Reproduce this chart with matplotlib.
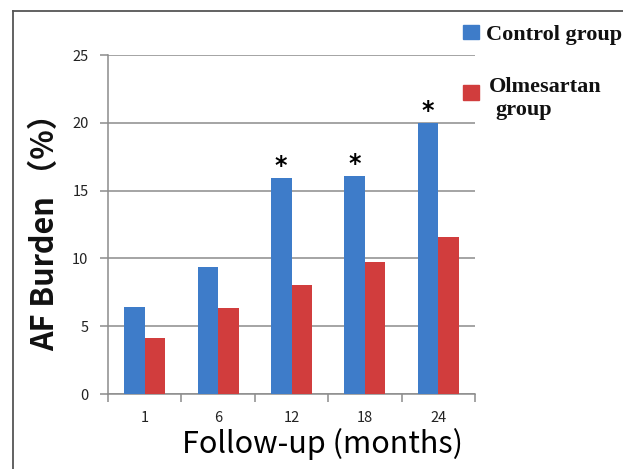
import matplotlib
matplotlib.use("Agg")
import matplotlib.pyplot as plt
from matplotlib.lines import Line2D
from matplotlib.patches import Rectangle
import numpy as np

months = ["1", "6", "12", "18", "24"]
control = [6.45, 9.4, 15.95, 16.05, 19.95]
olmesartan = [4.15, 6.35, 8.05, 9.7, 11.6]
significant = [False, False, True, True, True]
y_ticks = [0, 5, 10, 15, 20, 25]

BLUE = "#3E7CC9"
RED = "#D13D3D"
GRID = "#8c8c8c"

W, H = 623, 469
fig = plt.figure(figsize=(W / 100, H / 100), dpi=100)

def fx(px):
    return px / W

def fy(py):
    return 1 - py / H

ax = fig.add_axes([fx(108), fy(394), fx(475) - fx(108), fy(55) - fy(394)])

x = np.arange(len(months))
bw = 0.28
ax.bar(x - bw / 2, control, width=bw, color=BLUE, zorder=3)
ax.bar(x + bw / 2, olmesartan, width=bw, color=RED, zorder=3)

for xi, v, s in zip(x, control, significant):
    if s:
        ax.annotate("*", (xi - bw / 2, v), xytext=(0, 0), textcoords="offset points",
                    ha="center", va="bottom", fontsize=17, fontweight="bold",
                    color="black", family="DejaVu Sans")

ax.set_xlim(-0.5, len(months) - 0.5)
ax.set_ylim(0, 25)
ax.set_yticks(y_ticks)
ax.set_yticklabels([str(t) for t in y_ticks])
ax.yaxis.grid(True, color=GRID, linewidth=1.1, zorder=0)
ax.set_axisbelow(True)

# x ticks: labels at centers, tick marks at boundaries
ax.set_xticks(x)
ax.set_xticklabels(months)
ax.tick_params(axis="x", which="major", length=0, pad=12)
ax.set_xticks(np.arange(-0.5, len(months) + 0.5, 1.0), minor=True)
ax.tick_params(axis="x", which="minor", length=6, width=1.1, color=GRID, direction="out")
ax.tick_params(axis="y", length=6, width=1.1, color=GRID, direction="out", pad=8)

for lab in ax.get_xticklabels() + ax.get_yticklabels():
    lab.set_fontfamily("Noto Sans CJK SC")
    lab.set_fontsize(10.5)
    lab.set_color("#222222")

for sp in ["top", "right"]:
    ax.spines[sp].set_visible(False)
for sp in ["left", "bottom"]:
    ax.spines[sp].set_color(GRID)
    ax.spines[sp].set_linewidth(1.1)

ax.set_ylabel("AF Burden （%）", fontsize=22, fontweight="bold",
              family=["Noto Sans CJK SC", "DejaVu Sans"], color="#111111", labelpad=8)
fig.text(fx(323), fy(444), "Follow-up (months)", ha="center", va="center",
         fontsize=22, family=["Noto Sans CJK SC", "DejaVu Sans"],
         color="black")

# legend
fig.add_artist(Rectangle((fx(463), fy(39)), fx(16), fy(25) - fy(39), color=BLUE,
                         transform=fig.transFigure))
fig.add_artist(Rectangle((fx(463), fy(100)), fx(16), fy(85) - fy(100), color=RED,
                         transform=fig.transFigure))
fig.text(fx(486), fy(35), "Control group", ha="left", va="center", fontsize=16,
         fontweight="bold", family="Liberation Serif", color="#111111")
fig.text(fx(489), fy(87), "Olmesartan", ha="left", va="center", fontsize=16,
         fontweight="bold", family="Liberation Serif", color="#111111")
fig.text(fx(495), fy(110), "group", ha="left", va="center", fontsize=16,
         fontweight="bold", family="Liberation Serif", color="#111111")

# outer frame (top and left visible)
fig.add_artist(Line2D([fx(13), 1.0], [fy(11), fy(11)], color="#555555", linewidth=1.3,
                      transform=fig.transFigure))
fig.add_artist(Line2D([fx(13), fx(13)], [fy(11), 0.0], color="#555555", linewidth=1.3,
                      transform=fig.transFigure))

fig.savefig("out.png", dpi=100)
